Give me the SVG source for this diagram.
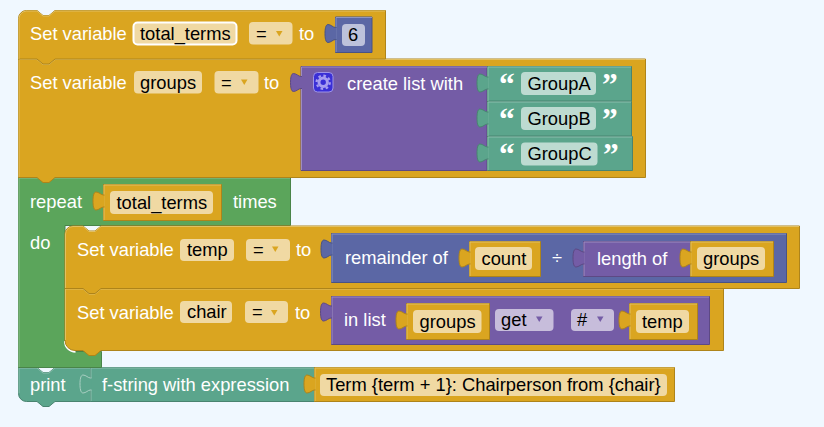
<svg xmlns="http://www.w3.org/2000/svg" width="824" height="427" viewBox="0 0 824 427">
<style>
text{font-family:"Liberation Sans",Arial,sans-serif;font-size:18.33px}
.l{fill:#fff}.d{fill:#000}
text.q{font-family:"Liberation Serif",serif;font-size:31.500px;font-weight:bold;fill:#fff}
.y{fill:#daa520;stroke:#ae841a}.yh{stroke:#e1c063}
.i{fill:#5b67a5;stroke:#495384}.ih{stroke:#8c95c0}
.p{fill:#745ca6;stroke:#5d4984}.ph{stroke:#9e8cc0}
.g{fill:#5ba55b;stroke:#498449}.gh{stroke:#8cc08c}
.t{fill:#5ba58c;stroke:#498470}.th{stroke:#8cc0ae}
.yh,.ih,.ph,.gh,.th,.w{fill:none;stroke-width:1}
.w{stroke:#fff;stroke-width:2}
.fy{fill:#f0d9a3}.fp{fill:#c7bddb}.ft{fill:#bddbd1}.fi{fill:#bdc2db}
.ay{fill:#daa520}.ap{fill:#745ca6}
</style>
<defs>
<path id="tab" d="M11.500 3H10.500C8 3 6 0 3 0C0.500 0 0 5 0 9C0 13 0.500 18 3 18C6 18 8 15 10.500 15H11.500"/>
<path id="arrow" d="M0 0H6.500L3.250 5.500Z"/>
</defs>
<rect width="824" height="427" fill="#f0f8ff"/>

<g id="connectors"/>

<g id="print-block">
<path class="t" d="M18.500 367.500H37L43 372.500H49L55 367.500H90.500V401.500H55L49 406.500H43L37 401.500H26.500A8 8 0 0 1 18.500 393.500Z"/>
<path class="th" d="M19 393V368H37L43 373H49L55 368H90"/>
<text class="l" x="30" y="391">print</text>
</g>

<g id="fstring-block">
<path class="t" d="M90.500 367.500H314.500V401.500H90.500Z"/>
<path class="th" d="M91 401V390M91 378V368H314"/>
<use href="#tab" x="80" y="375" class="t" style="stroke:#a9cfc2"/>
<text class="l" x="102" y="391">f-string with expression</text>
</g>

<g id="fstring-text">
<path class="y" d="M314.500 367.500H674.500V401.500H314.500Z"/>
<path class="yh" d="M315 401V368H674"/>
<use href="#tab" x="304" y="375" class="y"/>
<rect class="fy" x="320" y="374" width="347" height="22" rx="4"/>
<text class="d" x="326" y="391">Term {term + 1}: Chairperson from {chair}</text>
</g>

<g id="repeat-block">
<path class="g" d="M18.500 177.500H290.500V225.500H65V343.500A8 8 0 0 0 73 351.500H101.500V367.500H18.500Z"/>
<path class="gh" d="M19 367V178H290"/>
<text class="l" x="30" y="208">repeat</text>
<text class="l" x="233" y="208">times</text>
<text class="l" x="30" y="249">do</text>
<g id="repeat-count">
<path class="y" d="M103.500 184.500H221.500V220.500H103.500Z"/>
<path class="yh" d="M104 220V185H221"/>
<use href="#tab" x="93" y="192" class="y"/>
<rect class="fy" x="110" y="191" width="103" height="23" rx="4"/>
<text class="d" x="116.500" y="209">total_terms</text>
</g>
</g>

<g id="set-chair">
<path class="w" d="M65 341A10.500 10.500 0 0 0 75.500 351.800"/>
<path class="y" d="M65 288.500H83L89 293.500H95L101 288.500H723.500V350.500H101L95 355.500H89L83 350.500H75A10 10 0 0 1 65 340.500Z"/>
<path class="yh" d="M65.500 340V289H83L89 294H95L101 289H723"/>
<text class="l" x="77" y="319">Set variable</text>
<rect class="fy" x="180" y="301" width="52" height="22" rx="4"/>
<text class="d" x="187" y="318">chair</text>
<rect class="fy" x="245" y="301" width="43" height="22" rx="4"/>
<text class="d" x="252" y="318">=</text>
<use href="#arrow" x="271" y="310" class="ay"/>
<text class="l" x="295" y="319">to</text>
<g id="list-get">
<path class="p" d="M331.500 296.500H709.500V344.500H331.500Z"/>
<path class="ph" d="M332 344V297H709"/>
<use href="#tab" x="320.500" y="303" class="p"/>
<text class="l" x="344" y="326">in list</text>
<rect class="fp" x="495" y="309" width="58.500" height="22" rx="4"/>
<text class="d" x="501" y="326">get</text>
<use href="#arrow" x="536" y="316.500" class="ap"/>
<rect class="fp" x="571" y="309" width="43" height="22" rx="4"/>
<text class="d" x="577" y="326">#</text>
<use href="#arrow" x="597" y="316.500" class="ap"/>
<g id="list-get-groups">
<path class="y" d="M406.500 303.500H489.500V339.500H406.500Z"/>
<path class="yh" d="M407 339V304H489"/>
<use href="#tab" x="396" y="311" class="y"/>
<rect class="fy" x="413" y="310" width="68.500" height="23" rx="4"/>
<text class="d" x="419.500" y="328">groups</text>
</g>
<g id="list-get-temp">
<path class="y" d="M629.500 303.500H697.500V339.500H629.500Z"/>
<path class="yh" d="M630 339V304H697"/>
<use href="#tab" x="619" y="311" class="y"/>
<rect class="fy" x="636" y="310" width="53" height="23" rx="4"/>
<text class="d" x="642" y="328">temp</text>
</g>
</g>
</g>

<g id="set-temp">
<path class="y" d="M65 234A8 8 0 0 1 73 226H83L89 231H95L101 226H799.500V288.500H101L95 293.500H89L83 288.500H65Z"/>
<path class="yh" d="M65.500 288V234A8 8 0 0 1 73 226.500H83L89 231.500H95L101 226.500H799"/>
<text class="l" x="77" y="256">Set variable</text>
<rect class="fy" x="180" y="239" width="54" height="22" rx="4"/>
<text class="d" x="187" y="256">temp</text>
<rect class="fy" x="246" y="239" width="44" height="22" rx="4"/>
<text class="d" x="253" y="256">=</text>
<use href="#arrow" x="272" y="246.500" class="ay"/>
<text class="l" x="296" y="256">to</text>
<g id="remainder">
<path class="i" d="M331.500 233.500H786.500V282.500H331.500Z"/>
<path class="ih" d="M332 282V234H786"/>
<use href="#tab" x="321" y="240" class="i"/>
<text class="l" x="345" y="264">remainder of</text>
<text class="l" x="552" y="264">÷</text>
<g id="remainder-count">
<path class="y" d="M469.500 241.500H540.500V276.500H469.500Z"/>
<path class="yh" d="M470 276V242H540"/>
<use href="#tab" x="459" y="249" class="y"/>
<rect class="fy" x="475" y="247" width="57" height="23" rx="4"/>
<text class="d" x="481.500" y="265">count</text>
</g>
<g id="length-of">
<path class="p" d="M583.500 241.500H773.500V276.500H583.500Z"/>
<path class="ph" d="M584 276V242H773"/>
<use href="#tab" x="573" y="249" class="p"/>
<text class="l" x="597" y="265">length of</text>
<g id="length-groups">
<path class="y" d="M690.500 241.500H773.500V276.500H690.500Z"/>
<path class="yh" d="M691 276V242H773"/>
<use href="#tab" x="680" y="249" class="y"/>
<rect class="fy" x="697" y="247" width="68" height="23" rx="4"/>
<text class="d" x="703" y="265">groups</text>
</g>
</g>
</g>
</g>

<g id="set-groups">
<path class="y" d="M18.500 59H37L43 64H49L55 59H645.500V177.500H55L49 182.500H43L37 177.500H18.500Z"/>
<path class="yh" d="M19 177V59.500H37L43 64.500H49L55 59.500H645"/>
<text class="l" x="30" y="89">Set variable</text>
<rect class="fy" x="134" y="71" width="68" height="22.500" rx="4"/>
<text class="d" x="140" y="89">groups</text>
<rect class="fy" x="214.500" y="71" width="44" height="22.500" rx="4"/>
<text class="d" x="221" y="89">=</text>
<use href="#arrow" x="241" y="79.500" class="ay"/>
<text class="l" x="264" y="89">to</text>
<g id="create-list">
<path class="p" d="M301 66.500H487V170.500H301Z"/>
<path class="ph" d="M301.500 170V67H487"/>
<use href="#tab" x="290.500" y="73.500" class="p"/>
<rect x="313.500" y="72.500" width="19.500" height="19.500" rx="4" fill="#3a2fd6" stroke="#9e94e6"/>
<circle cx="323.200" cy="82.200" r="4.200" fill="none" stroke="#a79df0" stroke-width="3"/>
<circle cx="323.200" cy="82.200" r="6.600" fill="none" stroke="#a79df0" stroke-width="2.200" stroke-dasharray="2.600 2.580"/>
<text class="l" x="347" y="90">create list with</text>
</g>
<g id="group-a">
<path class="t" d="M487.500 66.500H631.500V101H487.500Z"/>
<path class="th" d="M488 101V67H631"/>
<use href="#tab" x="477" y="74" class="t"/>
<text class="q" x="499" y="95">“</text>
<rect class="ft" x="521" y="72" width="75" height="23" rx="4"/>
<text class="d" x="527.500" y="90">GroupA</text>
<text class="q" x="602" y="95">”</text>
</g>
<g id="group-b">
<path class="t" d="M487.500 101.500H631.500V136H487.500Z"/>
<path class="th" d="M488 136V102H631"/>
<use href="#tab" x="477" y="109" class="t"/>
<text class="q" x="499" y="130">“</text>
<rect class="ft" x="521" y="107" width="75" height="23" rx="4"/>
<text class="d" x="527.500" y="125">GroupB</text>
<text class="q" x="602" y="130">”</text>
</g>
<g id="group-c">
<path class="t" d="M487.500 136.500H632.500V170.500H487.500Z"/>
<path class="th" d="M488 170V137H632"/>
<use href="#tab" x="477" y="144" class="t"/>
<text class="q" x="499" y="165">“</text>
<rect class="ft" x="521" y="142.500" width="76.500" height="23" rx="4"/>
<text class="d" x="527.500" y="160">GroupC</text>
<text class="q" x="603" y="165">”</text>
</g>
</g>

<g id="set-total-terms">
<path class="y" d="M18.500 18.500A8 8 0 0 1 26.500 10.500H37L43 15.500H49L55 10.500H385.500V59H55L49 64H43L37 59H18.500Z"/>
<path class="yh" d="M19 59V18.500A8 8 0 0 1 26.500 11H37L43 16H49L55 11H385"/>
<text class="l" x="30" y="40">Set variable</text>
<rect class="fy" x="133.500" y="22.500" width="103" height="22" rx="4" stroke="#fff" stroke-width="2"/>
<text class="d" x="140" y="40">total_terms</text>
<rect class="fy" x="249" y="22" width="43.500" height="22.500" rx="4"/>
<text class="d" x="256" y="40">=</text>
<use href="#arrow" x="276" y="31" class="ay"/>
<text class="l" x="299" y="40">to</text>
<g id="number-six">
<path class="i" d="M335.500 17H372V52.500H335.500Z"/>
<path class="ih" d="M336 52V17.500H372"/>
<use href="#tab" x="325" y="24.500" class="i"/>
<rect class="fi" x="342" y="24" width="23" height="22" rx="4"/>
<text class="d" x="348" y="41">6</text>
</g>
</g>
</svg>
